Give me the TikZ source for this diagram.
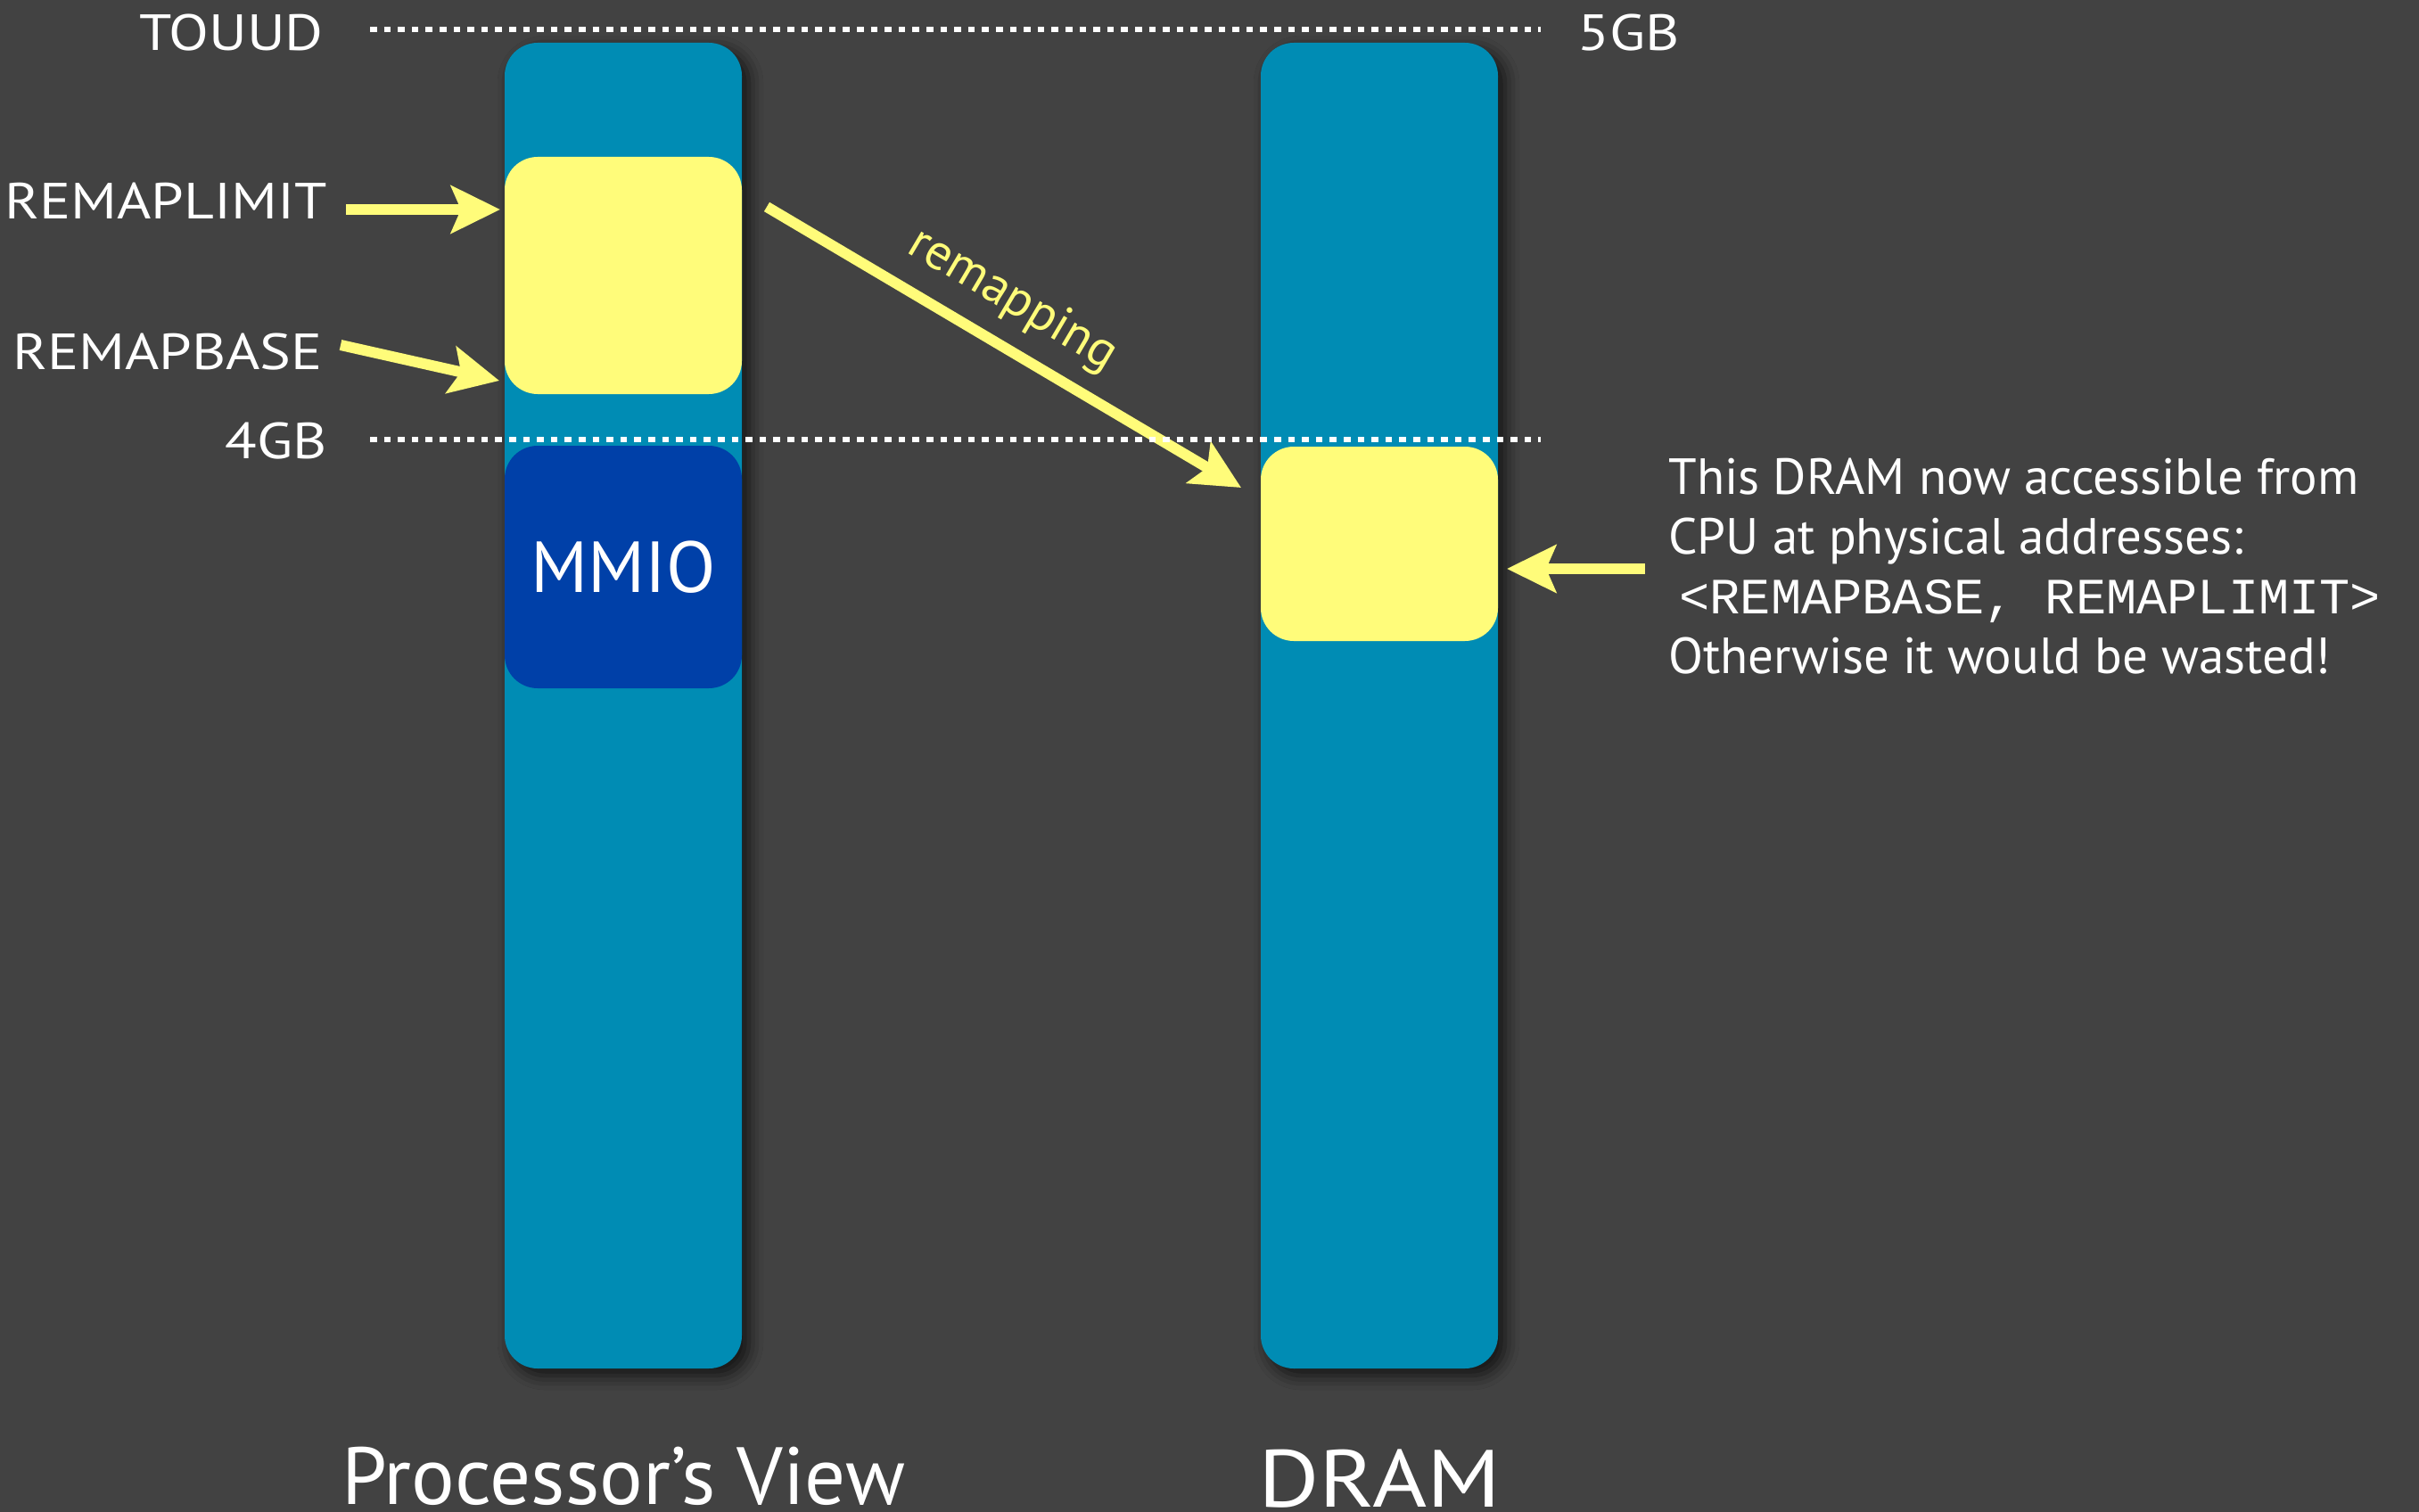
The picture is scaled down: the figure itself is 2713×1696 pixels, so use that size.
\documentclass[tikz,border=0pt]{standalone}
\usepackage{fontspec}
\setmainfont{PT Sans}
\setmonofont{Liberation Mono}
\newfontfamily\capfont[FakeStretch=1.15]{PT Sans}
\usetikzlibrary{arrows.meta,shadows.blur}
\definecolor{slidebg}{RGB}{66,66,66}
\definecolor{barblue}{RGB}{0,140,180}
\definecolor{remapyellow}{RGB}{255,252,122}
\definecolor{mmioblue}{RGB}{0,64,168}
\newcommand{\lblfont}{\fontsize{28.5}{33.5}\selectfont}
\newcommand{\bigfont}{\fontsize{45.5}{45.5}\selectfont}

\begin{document}
\begin{tikzpicture}[x=0.5pt,y=-0.5pt,
  bar/.style={fill=barblue, rounded corners=18.5pt, minimum width=133pt, minimum height=743.5pt, inner sep=0pt,
    blur shadow={shadow xshift=4pt, shadow yshift=-4pt, shadow blur radius=8pt, shadow opacity=70}},
  region/.style={rounded corners=18.5pt, minimum width=133pt, inner sep=0pt},
  lbl/.style={text=white, font=\lblfont, inner sep=0pt},
  caplbl/.style={lbl, font=\lblfont\capfont},
  hl/.style={draw=remapyellow, line width=6pt, -{Stealth[length=27.5pt,width=26.5pt,inset=5.5pt]}},
  level/.style={white, line width=2.8pt, dash pattern=on 3.8pt off 4pt}]
\fill[slidebg] (0,0) rectangle (2713,1696);
\useasboundingbox (0,0) rectangle (2713,1696);
\node[bar] (procbar) at (699,791.5) {};
\node[bar] (drambar) at (1547,791.5) {};
\node[region, fill=remapyellow, minimum height=133pt] (remapsrc) at (699,309) {};
\node[region, fill=mmioblue, minimum height=136pt, text=white, font=\fontsize{40.5}{40.5}\selectfont] (mmio) at (699,636) {MMIO};
\node[region, fill=remapyellow, minimum height=109pt] (remapdst) at (1547,610) {};
\node[caplbl, anchor=base east] (touud) at (363,57) {TOUUD};
\node[caplbl, anchor=base west] (fivegb) at (1769,57) {5GB};
\node[caplbl, anchor=base east] (limlbl) at (367,246) {REMAPLIMIT};
\node[caplbl, anchor=base east] (baselbl) at (362,414) {REMAPBASE};
\node[caplbl, anchor=base east] (fourgb) at (367,514) {4GB};
\coordinate (limtail) at (388,235);
\coordinate (limtip) at (561,235);
\coordinate (basetail) at (382,387);
\coordinate (basetip) at (560,427);
\coordinate (remaptail) at (860,232);
\coordinate (remaptip) at (1392,547);
\coordinate (notetail) at (1845,638);
\coordinate (notetip) at (1690,638);
\draw[hl] (limtail) -- (limtip);
\draw[hl] (basetail) -- (basetip);
\draw[hl] (remaptail) -- node[sloped, above=9pt, pos=0.47, text=remapyellow, font=\lblfont, inner sep=0pt] {remapping} (remaptip);
\draw[hl] (notetail) -- (notetip);
\coordinate (topl) at (415,33);
\coordinate (topr) at (1728,33);
\coordinate (lowl) at (415,493);
\coordinate (lowr) at (1728,493);
\draw[level] (topl) -- (topr);
\draw[level] (lowl) -- (lowr);
\node[lbl, anchor=base west, align=left] (note) at (1871,755) {This DRAM now accessible from\\CPU at physical addresses:\\\hspace*{6pt}\texttt{<REMAPBASE, REMAPLIMIT>}\\Otherwise it would be wasted!};
\node[lbl, font=\bigfont, anchor=base] (proclbl) at (699,1687) {Processor’s View};
\node[lbl, font=\bigfont\capfont, anchor=base] (dramlbl) at (1547,1690) {DRAM};
\end{tikzpicture}
\end{document}
